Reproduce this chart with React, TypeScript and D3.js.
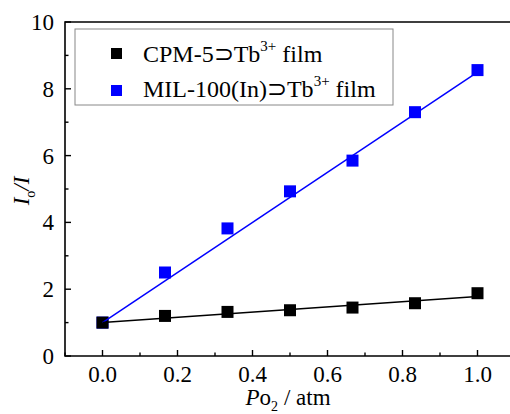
import React from "react";
import * as d3 from "d3";

const pressures = [0, 1 / 6, 2 / 6, 3 / 6, 4 / 6, 5 / 6, 1];
const cpmValues = [1.0, 1.2, 1.32, 1.37, 1.45, 1.58, 1.88];
const milValues = [1.0, 2.5, 3.82, 4.93, 5.85, 7.3, 8.56];
const cpmFit = [1.0, 1.78];
const milFit = [1.0, 8.5];
const fitX = [0, 1];
const xTicks = [0, 0.2, 0.4, 0.6, 0.8, 1.0];
const xMinor = [-0.1, 0.1, 0.3, 0.5, 0.7, 0.9];
const yTicks = [0, 2, 4, 6, 8, 10];
const yMinor = [1, 3, 5, 7, 9];

const W = 510;
const H = 414;
const left = 65;
const top = 22;
const bottom = 356;
const FONT = "Liberation Serif";

export default function App() {
  const x = d3.scaleLinear().domain([-0.1, 1.1]).range([left, left + 450]);
  const y = d3.scaleLinear().domain([0, 10]).range([bottom, top]);
  const line = d3
    .line<number>()
    .x((_, i) => x(fitX[i]))
    .y((d) => y(d));
  const tf = { fontFamily: `"${FONT}"` };
  const ms = 12;
  return (
    <svg width={W} height={H} fontFamily={FONT} style={{ position: "absolute", left: 0, top: 0, fontFamily: `"${FONT}"` }}>
      <rect width={W} height={H} fill="white" />
      <path
        d={`M${W + 5},${top}H${left}V${bottom}H${W + 5}`}
        fill="none"
        stroke="black"
        strokeWidth={1.6}
      />
      {xTicks.map((t) => (
        <g key={"xt" + t}>
          <line x1={x(t)} x2={x(t)} y1={bottom} y2={bottom - 6} stroke="black" strokeWidth={1.4} />
          <text x={x(t)} y={382} fontSize={23} textAnchor="middle" fontFamily={FONT} style={tf}>
            {t.toFixed(1)}
          </text>
        </g>
      ))}
      {xMinor.map((t) => (
        <line key={"xm" + t} x1={x(t)} x2={x(t)} y1={bottom} y2={bottom - 3.5} stroke="black" strokeWidth={1.4} />
      ))}
      {yTicks.map((t) => (
        <g key={"yt" + t}>
          <line x1={left} x2={left + 6} y1={y(t)} y2={y(t)} stroke="black" strokeWidth={1.4} />
          <text x={54} y={y(t) + 8} fontSize={23} textAnchor="end" fontFamily={FONT} style={tf}>
            {t}
          </text>
        </g>
      ))}
      {yMinor.map((t) => (
        <line key={"ym" + t} x1={left} x2={left + 3.5} y1={y(t)} y2={y(t)} stroke="black" strokeWidth={1.4} />
      ))}
      {pressures.map((p, i) => (
        <rect key={"m" + i} x={x(p) - ms / 2} y={y(milValues[i]) - ms / 2} width={ms} height={ms} fill="#0000ff" />
      ))}
      {pressures.map((p, i) => (
        <rect key={"c" + i} x={x(p) - ms / 2} y={y(cpmValues[i]) - ms / 2} width={ms} height={ms} fill="black" />
      ))}
      <path d={line(milFit) || ""} fill="none" stroke="#0000ff" strokeWidth={1.5} />
      <path d={line(cpmFit) || ""} fill="none" stroke="black" strokeWidth={1.5} />
      <rect x={75} y={29} width={318} height={76} fill="white" stroke="#888" strokeWidth={1} />
      <rect x={111} y={48} width={11} height={11} fill="black" />
      <rect x={111} y={85} width={11} height={11} fill="#0000ff" />
      <text x={143} y={62} fontSize={24} fontFamily={FONT} style={tf}>
        CPM-5⊃Tb
        <tspan dy={-11} fontSize={15}>3+</tspan>
        <tspan dy={11}> film</tspan>
      </text>
      <text x={143} y={97} fontSize={24} fontFamily={FONT} style={tf}>
        MIL-100(In)⊃Tb
        <tspan dy={-11} fontSize={15}>3+</tspan>
        <tspan dy={11}> film</tspan>
      </text>
      <text x={288} y={405} fontSize={23} textAnchor="middle" fontFamily={FONT} style={tf}>
        <tspan fontStyle="italic">P</tspan>o
        <tspan dy={6} fontSize={14}>2</tspan>
        <tspan dy={-6} dx={6}>/ atm</tspan>
      </text>
      <text transform="translate(29,191) rotate(-90)" fontSize={23} textAnchor="middle" fontFamily={FONT} style={tf}>
        <tspan fontStyle="italic">I</tspan>
        <tspan dy={6} fontSize={14}>o</tspan>
        <tspan dy={-6} fontStyle="italic">/I</tspan>
      </text>
    </svg>
  );
}
